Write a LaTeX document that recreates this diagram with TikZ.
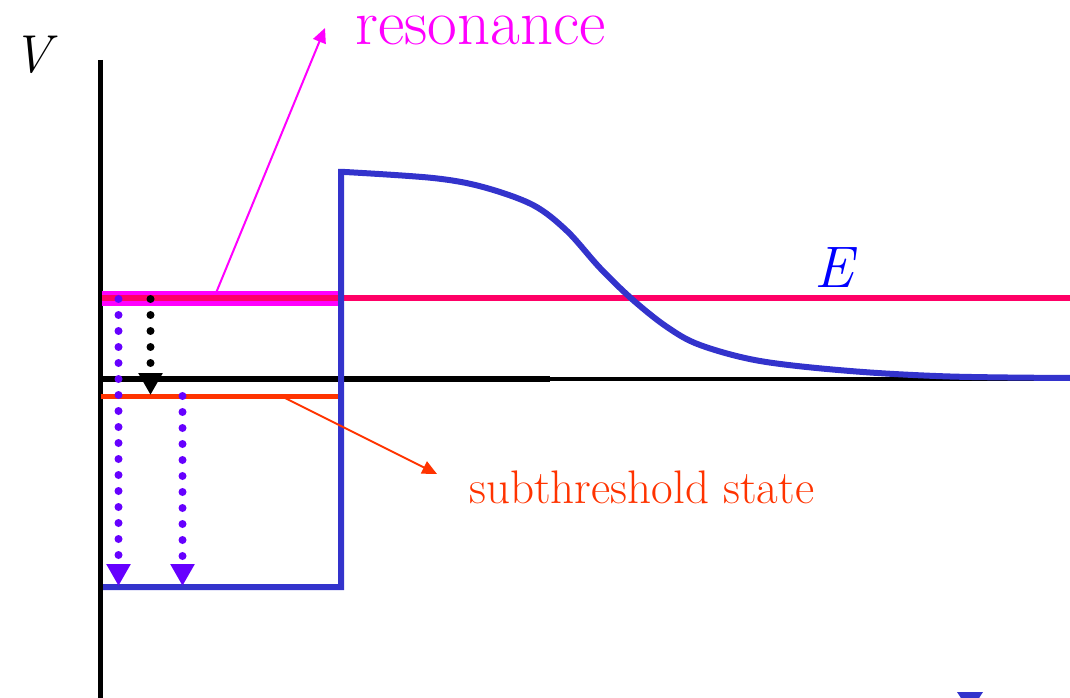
\documentclass[tikz,border=0pt]{standalone}
\usetikzlibrary{arrows.meta}
\definecolor{wellblue}{HTML}{3333CC}
\definecolor{resmag}{HTML}{FF00FF}
\definecolor{elev}{HTML}{FF0066}
\definecolor{suborange}{HTML}{FF3300}
\definecolor{decay}{HTML}{6600FF}
\tikzset{
  axisline/.style={black, line width=3.75pt},
  wellline/.style={wellblue, line width=4.5pt, line join=miter},
  dotarrow/.style={line width=6pt, line cap=round, dash pattern=on 0pt off 12pt,
     -{Triangle[length=16.5pt, width=17.25pt]}},
  callout/.style={line width=1.5pt, -{Triangle[length=11pt, width=10pt]}},
  lbl/.style={inner sep=0pt, anchor=base west}
}
\begin{document}
\begin{tikzpicture}[x=0.75pt, y=-0.75pt]
\useasboundingbox (0,0) rectangle (1070,698);
% axes
\coordinate (vtop) at (100,60);
\coordinate (vbot) at (100,698);
\coordinate (h0) at (100,379);
\coordinate (hm) at (550,379);
\coordinate (h1) at (1070,379);
\draw[axisline] (vtop) -- (vbot);
\draw[black, line width=4.5pt] (h0) -- (hm);
\draw[black, line width=3.2pt] (hm) -- (h1);
% resonance band and energy line
\coordinate (bandL) at (102,298.5);
\coordinate (bandR) at (340,298.5);
\coordinate (eR) at (1070,298.5);
\draw[resmag, line width=11.25pt] (bandL) -- (bandR);
\draw[elev, line width=4.5pt] (bandL) -- (eR);
% subthreshold level
\coordinate (subL) at (101,396);
\coordinate (subR) at (340,396);
\draw[suborange, line width=3.75pt] (subL) -- (subR);
% potential well and barrier
\draw[wellline] (103,587) -- (341,587) -- (341,172)
  -- plot[smooth, tension=0.55] coordinates {(345,172) (433,178) (483,187) (533,205) (567,231) (600,268) (633,300) (667,327) (700,345) (760,361) (850,371) (950,376.5) (1070,378)};
% dotted transitions
\coordinate (d1s) at (118.5,299);
\coordinate (d1e) at (118.5,586);
\coordinate (d2s) at (182.5,396);
\coordinate (d2e) at (182.5,586);
\coordinate (d3s) at (150.5,299);
\coordinate (d3e) at (150.5,395);
\draw[dotarrow, decay] (d1s) -- (d1e);
\draw[dotarrow, decay] (d2s) -- (d2e);
\draw[dotarrow, black] (d3s) -- (d3e);
% labels
\node[lbl, font=\itshape\fontsize{40pt}{40pt}\selectfont] (vlab) at (12,73) {V};
\node[lbl, font=\itshape\fontsize{44pt}{44pt}\selectfont, text=blue] (elab) at (814,288) {E};
\node[lbl, font=\fontsize{48.5pt}{48.5pt}\selectfont, text=resmag] (reslab) at (355,45) {resonance};
\node[lbl, font=\fontsize{35.3pt}{35.3pt}\selectfont, text=suborange] (sublab) at (469,503) {subthreshold state};
% callouts
\coordinate (resfoot) at (216,293);
\coordinate (restip) at (325,28);
\draw[callout, resmag] (resfoot) -- (restip);
\coordinate (subfoot) at (283,397);
\coordinate (subtip) at (437,474);
\draw[callout, suborange] (subfoot) -- (subtip);
% cut-off marker at bottom edge
\fill[wellblue] (957,692) -- (983,692) -- (970,712) -- cycle;
\end{tikzpicture}
\end{document}
